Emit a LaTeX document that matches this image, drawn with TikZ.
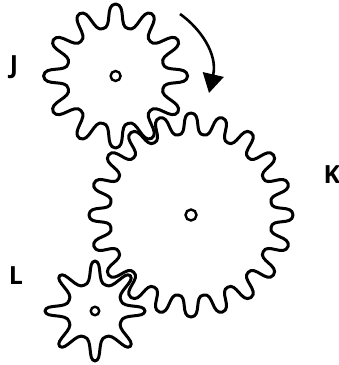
\documentclass[tikz,border=0pt]{standalone}
\usepackage{fontspec}
\setmainfont{Open Sans}
\usetikzlibrary{arrows.meta}
\newcommand{\gearwheel}[7]{% cx, cy, root radius, tip radius, teeth, root handle, tip handle
  \pgfmathsetmacro{\halfp}{180/#5}
  \draw[gearline, shift={(#1,#2)}] ({\halfp}:#3)
    \foreach \k [evaluate=\k as \a using \k*360/#5] in {1,...,#5} {
      .. controls ({\a-\halfp+#6*\halfp}:#3) and ({\a-#7*\halfp}:#4) .. (\a:#4)
      .. controls ({\a+#7*\halfp}:#4) and ({\a+\halfp-#6*\halfp}:#3) .. ({\a+\halfp}:#3)
    } -- cycle;
}
\begin{document}
\begin{tikzpicture}[
    x=1pt, y=-1pt,
    gearline/.style={draw=black, line width=3pt, line join=round},
    hubhole/.style={circle, draw=black, line width=2.4pt, fill=white, inner sep=0pt},
    gearlabel/.style={font=\bfseries\fontsize{25pt}{25pt}\selectfont, text=black, inner sep=0pt},
    turnarr/.style={-{Triangle[length=19pt, width=21pt]}, draw=black, line width=2.6pt}
  ]
  \useasboundingbox (0,0) rectangle (339,365);

  \gearwheel{191}{215}{81}{102}{20}{0.8}{0.7}
  \gearwheel{115.6}{76}{49}{72}{12}{0.8}{0.6}
  \gearwheel{95}{311}{28}{50}{8}{0.85}{0.4}

  \node[hubhole, minimum size=10pt] (hubJ) at (115.6,76) {};
  \node[hubhole, minimum size=11pt] (hubK) at (191,215) {};
  \node[hubhole, minimum size=8.5pt] (hubL) at (95,311) {};

  \node[gearlabel] (labJ) at (14,67) {J};
  \node[gearlabel] (labK) at (332,175) {K};
  \node[gearlabel] (labL) at (16,276) {L};

  \draw[turnarr] (180,14) .. controls (200,28) and (218,54) .. (209,93);
\end{tikzpicture}
\end{document}
